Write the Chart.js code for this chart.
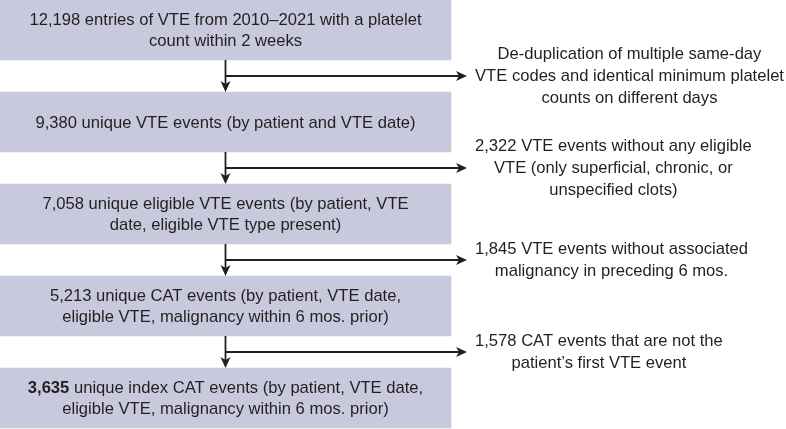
<!DOCTYPE html>
<html>
<head>
<meta charset="utf-8">
<script src="https://cdn.jsdelivr.net/npm/chart.js@4.4.0/dist/chart.umd.min.js"></script>
<style>
  html, body { margin: 0; padding: 0; background: #fff; }
  #wrap { width: 786px; height: 429px; }
</style>
</head>
<body>
<div id="wrap"><canvas id="flowChart"></canvas></div>
<script>
// Etapas del diagrama (de arriba a abajo)
const stages = ['entries', 'unique', 'eligible', 'cat', 'indexCat'];
const stageCounts = ['12,198', '9,380', '7,058', '5,213', '3,635'];
const stageText = [
    [' entries of VTE from 2010\u20132021 with a platelet', 'count within 2 weeks'],
    [' unique VTE events (by patient and VTE date)'],
    [' unique eligible VTE events (by patient, VTE', 'date, eligible VTE type present)'],
    [' unique CAT events (by patient, VTE date,', 'eligible VTE, malignancy within 6 mos. prior)'],
    [' unique index CAT events (by patient, VTE date,', 'eligible VTE, malignancy within 6 mos. prior)']
];
// Exclusiones entre etapas
const excludedText = [
    ['De-duplication of multiple same-day', 'VTE codes and identical minimum platelet', 'counts on different days'],
    ['2,322 VTE events without any eligible', 'VTE (only superficial, chronic, or', 'unspecified clots)'],
    ['1,845 VTE events without associated', 'malignancy in preceding 6 mos.'],
    ['1,578 CAT events that are not the', 'patient\u2019s first VTE event']
];

// Layout (unidades del eje x = px)
const BOX_RIGHT = 451;
const ARROW_END = 467;
const NOTE_LEFT = 475;
const FONT = '"Liberation Sans", Arial, Helvetica, sans-serif';
const FONT_SIZE = '16.6px ';
const TEXT_COLOR = '#231f20';

function drawArrowHead(ctx, x, y, dir) {
    const len = 11, half = 5;
    ctx.beginPath();
    if (dir === 'down') {
        ctx.moveTo(x, y);
        ctx.lineTo(x - half, y - len);
        ctx.lineTo(x, y - len + 3);
        ctx.lineTo(x + half, y - len);
    } else {
        ctx.moveTo(x, y);
        ctx.lineTo(x - len, y - half);
        ctx.lineTo(x - len + 3, y);
        ctx.lineTo(x - len, y + half);
    }
    ctx.closePath();
    ctx.fill();
}

const flowPlugin = {
    id: 'flowText',
    afterDatasetsDraw(chart) {
        const ctx = chart.ctx;
        const xs = chart.scales.x;
        const bars = chart.getDatasetMeta(0).data;
        ctx.save();
        ctx.fillStyle = TEXT_COLOR;
        ctx.strokeStyle = TEXT_COLOR;
        ctx.textBaseline = 'middle';
        const lh = 20.5;
        const noteLh = 22;

        // Texto de cada caja
        bars.forEach((bar, i) => {
            const cx = (bar.base + bar.x) / 2;
            const lines = stageText[i];
            const top = bar.y + 1 - (lines.length - 1) * lh / 2;
            lines.forEach((line, j) => {
                const y = top + j * lh;
                if (j === 0) {
                    const bold = i === stages.length - 1;
                    ctx.font = (bold ? 'bold ' : '') + FONT_SIZE + FONT;
                    const w1 = ctx.measureText(stageCounts[i]).width;
                    ctx.font = FONT_SIZE + FONT;
                    const w2 = ctx.measureText(line).width;
                    const start = cx - (w1 + w2) / 2;
                    ctx.textAlign = 'left';
                    ctx.font = (bold ? 'bold ' : '') + FONT_SIZE + FONT;
                    ctx.fillText(stageCounts[i], start, y);
                    ctx.font = FONT_SIZE + FONT;
                    ctx.fillText(line, start + w1, y);
                } else {
                    ctx.textAlign = 'center';
                    ctx.font = FONT_SIZE + FONT;
                    ctx.fillText(line, cx, y);
                }
            });
        });

        // Flechas y exclusiones
        ctx.lineWidth = 1.8;
        for (let i = 0; i < bars.length - 1; i++) {
            const a = bars[i], b = bars[i + 1];
            const cx = (a.base + a.x) / 2;
            const y0 = a.y + a.height / 2;
            const y1 = b.y - b.height / 2;
            const mid = (y0 + y1) / 2;
            const xEnd = xs.getPixelForValue(ARROW_END);

            ctx.beginPath();
            ctx.moveTo(cx, y0);
            ctx.lineTo(cx, y1 - 6);
            ctx.moveTo(cx, mid);
            ctx.lineTo(xEnd - 6, mid);
            ctx.stroke();
            drawArrowHead(ctx, cx, y1, 'down');
            drawArrowHead(ctx, xEnd, mid, 'right');

            ctx.font = FONT_SIZE + FONT;
            const lines = excludedText[i];
            const maxW = Math.max(...lines.map(l => ctx.measureText(l).width));
            const tx = xs.getPixelForValue(NOTE_LEFT) + maxW / 2;
            ctx.textAlign = 'center';
            const top = mid - (lines.length - 1) * noteLh / 2;
            lines.forEach((line, j) => ctx.fillText(line, tx, top + j * noteLh));
        }
        ctx.restore();
    }
};

new Chart(document.getElementById('flowChart'), {
    type: 'bar',
    data: {
        labels: stages,
        datasets: [{
            data: stages.map(() => [0, BOX_RIGHT]),
            backgroundColor: '#c8c9dd',
            borderWidth: 0,
            barThickness: 60,
            clip: false
        }]
    },
    options: {
        indexAxis: 'y',
        responsive: true,
        maintainAspectRatio: false,
        animation: false,
        layout: { padding: { top: 30, bottom: 31, left: 0, right: 0 } },
        plugins: { legend: { display: false }, tooltip: { enabled: false } },
        scales: {
            x: { type: 'linear', min: 0, max: 786, display: false },
            y: { type: 'category', offset: false, display: false }
        }
    },
    plugins: [flowPlugin]
});
</script>
</body>
</html>
